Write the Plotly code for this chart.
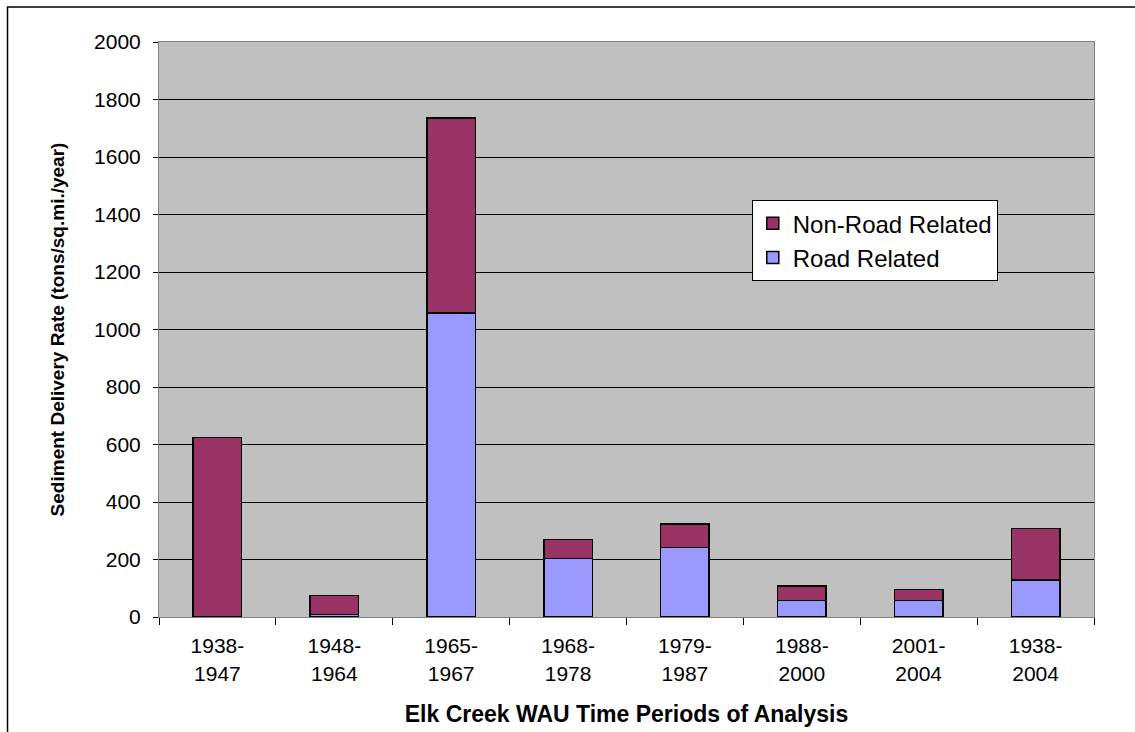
import plotly.graph_objects as go

periods = ["1938-<br>1947", "1948-<br>1964", "1965-<br>1967", "1968-<br>1978",
           "1979-<br>1987", "1988-<br>2000", "2001-<br>2004", "1938-<br>2004"]
road_related = [0, 8, 1057, 203, 241, 58, 58, 129]
non_road_related = [625, 66, 678, 66, 82, 50, 38, 178]

font_family = "Liberation Sans, Arial, sans-serif"

fig = go.Figure()
fig.add_trace(go.Bar(
    x=periods, y=road_related, name="Road Related",
    marker=dict(color="#9999FF", line=dict(color="#000000", width=1.5)),
))
fig.add_trace(go.Bar(
    x=periods, y=non_road_related, name="Non-Road Related",
    marker=dict(color="#993366", line=dict(color="#000000", width=1.5)),
))

fig.update_layout(
    width=1135, height=732,
    barmode="stack",
    bargap=0.585,
    paper_bgcolor="#FFFFFF",
    plot_bgcolor="#C0C0C0",
    margin=dict(l=159, r=41, t=42, b=115),
    font=dict(family=font_family, color="#000000", size=20),
    legend=dict(
        x=0.634, y=0.725, xanchor="left", yanchor="top",
        bgcolor="#FFFFFF", bordercolor="#000000", borderwidth=1,
        traceorder="reversed",
        font=dict(size=24, family=font_family),
        itemwidth=30,
        tracegroupgap=0,
    ),
    showlegend=True,
)

fig.update_xaxes(
    type="category",
    automargin=False,
    tickson="boundaries",
    ticks="outside", ticklen=7, tickcolor="#000000",
    ticklabelstandoff=10,
    showline=True, linecolor="#808080", linewidth=1, mirror=True,
    showgrid=False,
    tickfont=dict(size=21, family=font_family),
    title=dict(text="<b>Elk Creek WAU Time Periods of Analysis</b>",
               font=dict(size=23, family=font_family), standoff=22),
)
fig.update_yaxes(
    range=[0, 2000], dtick=200,
    automargin=False,
    ticks="outside", ticklen=5, tickcolor="#000000",
    ticklabelstandoff=8,
    showline=True, linecolor="#808080", linewidth=1, mirror=True,
    showgrid=True, gridcolor="#000000", gridwidth=1,
    zeroline=False,
    tickfont=dict(size=21, family=font_family),
    title=dict(text="<b>Sediment Delivery Rate (tons/sq.mi./year)</b>",
               font=dict(size=19, family=font_family), standoff=24),
)

# thin frame around the chart area
fig.add_shape(type="rect", xref="paper", yref="paper",
              x0=-0.162, x1=1.2, y0=-0.3, y1=1.061,
              line=dict(color="#000000", width=1.5), layer="below")

fig.write_html("out.html")
